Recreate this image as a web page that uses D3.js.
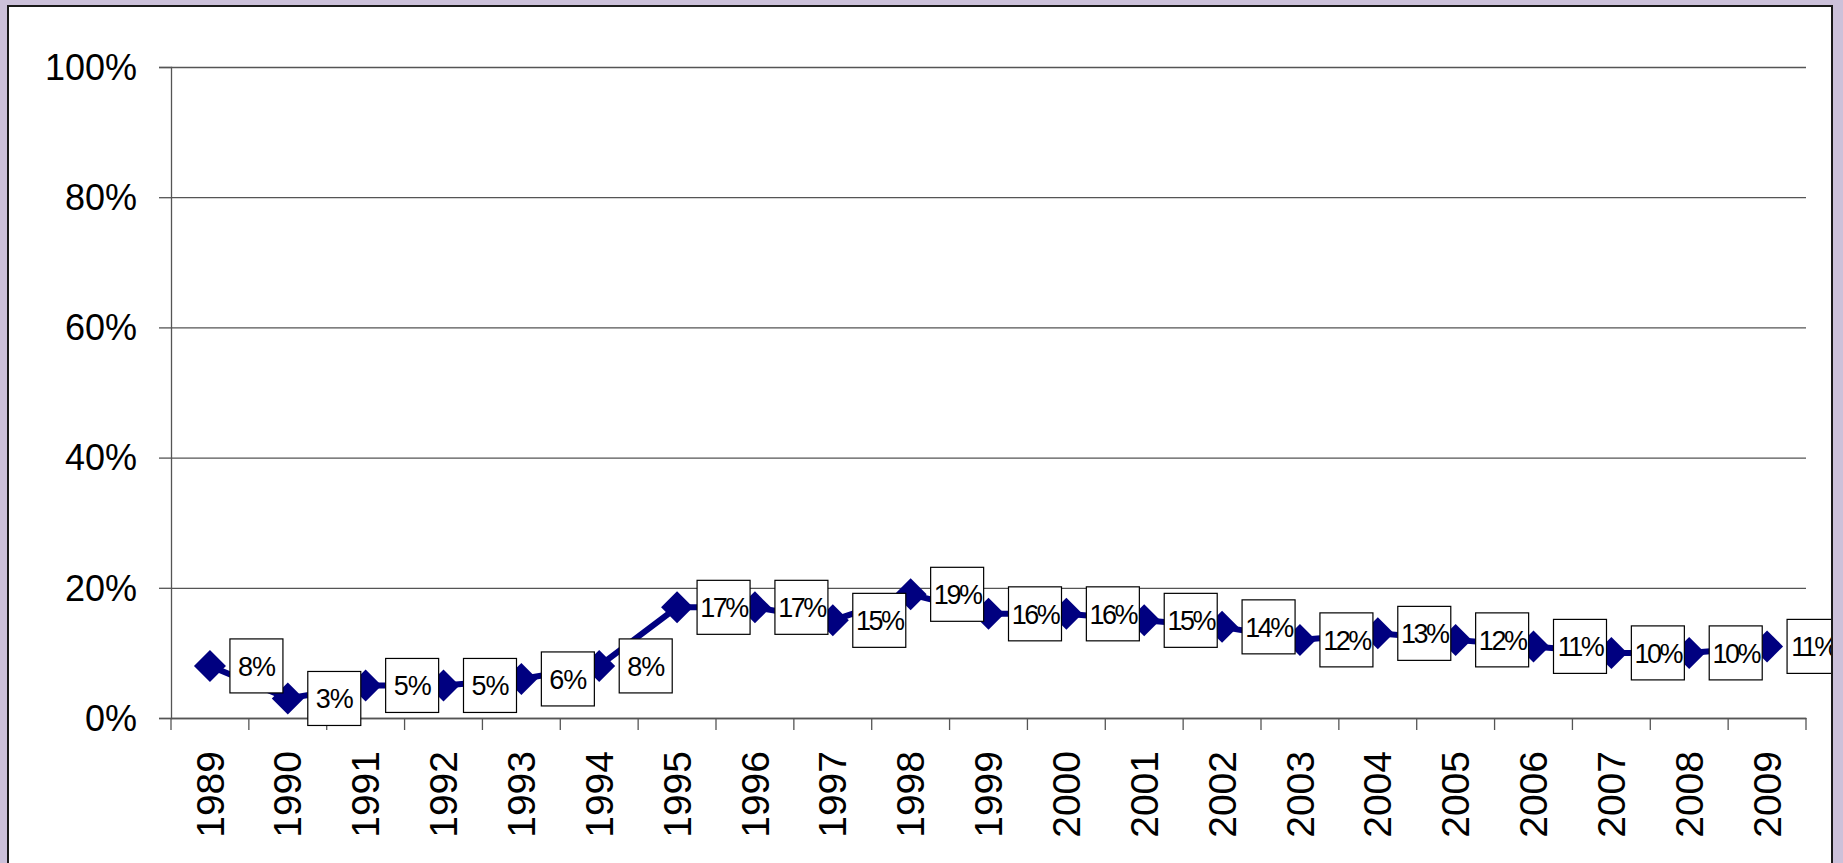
<!DOCTYPE html>
<html>
<head>
<meta charset="utf-8">
<script src="https://cdn.jsdelivr.net/npm/d3@7"></script>
<style>
  body { margin: 0; background: #ccc1da; overflow: hidden; }
  svg { display: block; }
  text { font-family: "Liberation Sans", Arial, sans-serif; fill: #000; }
</style>
</head>
<body>
<script>
// chart data
var years = ["1989", "1990", "1991", "1992", "1993", "1994", "1995", "1996", "1997", "1998", "1999",
             "2000", "2001", "2002", "2003", "2004", "2005", "2006", "2007", "2008", "2009"];
var shares = [0.08, 0.03, 0.05, 0.05, 0.06, 0.08, 0.17, 0.17, 0.15, 0.19, 0.16,
              0.16, 0.15, 0.14, 0.12, 0.13, 0.12, 0.11, 0.10, 0.10, 0.11];
var yTicks = [0, 0.2, 0.4, 0.6, 0.8, 1.0];

var width = 1843, height = 863;
var plot = {left: 171, right: 1806, top: 67, bottom: 718};

var svg = d3.select("body").append("svg")
    .attr("width", width)
    .attr("height", height);

// white chart panel
svg.append("rect")
    .attr("x", 8).attr("y", 6)
    .attr("width", 1824).attr("height", 880)
    .attr("fill", "#fff")
    .attr("stroke", "#1a1a1a")
    .attr("stroke-width", 2);

svg.append("clipPath").attr("id", "panel")
  .append("rect").attr("x", 9).attr("y", 7).attr("width", 1822).attr("height", 880);

var x = d3.scaleBand()
    .domain(years)
    .range([plot.left, plot.right])
    .padding(0);

var y = d3.scaleLinear()
    .domain([0, 1])
    .range([plot.bottom, plot.top]);

// gridlines
svg.append("g")
    .attr("transform", "translate(" + plot.left + ",0)")
    .call(d3.axisLeft(y).tickValues(yTicks).tickSize(-(plot.right - plot.left)).tickFormat(""))
    .call(function(g) { g.select(".domain").remove(); })
    .selectAll("line")
    .attr("stroke", "#555")
    .attr("stroke-width", 1.3);

// y axis
var yAxis = svg.append("g")
    .attr("transform", "translate(" + plot.left + ",0)")
    .call(d3.axisLeft(y).tickValues(yTicks).tickSize(12).tickPadding(22).tickFormat(d3.format(".0%")));
yAxis.select(".domain").attr("stroke", "#555").attr("stroke-width", 1.3);
yAxis.selectAll("line").attr("stroke", "#555").attr("stroke-width", 1.3);
yAxis.selectAll("text")
    .style("font-size", "36px")
    .attr("dy", "0.34em");

// x axis: labels at band centers, ticks at band boundaries
var xAxis = svg.append("g")
    .attr("transform", "translate(0," + plot.bottom + ")")
    .call(d3.axisBottom(x).tickSize(0).tickPadding(0));
xAxis.select(".domain").attr("stroke", "#555").attr("stroke-width", 1.3);
xAxis.selectAll("text")
    .style("font-size", "39px")
    .attr("text-anchor", "end")
    .attr("transform", "translate(0,33) rotate(-90)")
    .attr("x", 0).attr("y", 0)
    .attr("dy", "0.35em");

var bounds = years.map(function(d) { return x(d); }).concat([plot.right]);
xAxis.selectAll(".bound")
    .data(bounds)
    .enter()
    .append("line")
    .attr("class", "bound")
    .attr("x1", function(d) { return d; })
    .attr("x2", function(d) { return d; })
    .attr("y1", 0).attr("y2", 12)
    .attr("stroke", "#555")
    .attr("stroke-width", 1.3);

var data = years.map(function(d, i) { return {year: d, value: shares[i]}; });
var cx = function(d) { return x(d.year) + x.bandwidth() / 2; };

// line
var line = d3.line()
    .x(cx)
    .y(function(d) { return y(d.value); });

svg.append("path")
    .datum(data)
    .attr("d", line)
    .attr("fill", "none")
    .attr("stroke", "#000080")
    .attr("stroke-width", 6);

// diamond markers
var r = 16;
svg.selectAll(".marker")
    .data(data)
    .enter()
    .append("path")
    .attr("class", "marker")
    .attr("d", "M0," + (-r) + "L" + r + ",0L0," + r + "L" + (-r) + ",0Z")
    .attr("transform", function(d) { return "translate(" + cx(d) + "," + y(d.value) + ")"; })
    .attr("fill", "#000080");

// data labels in white boxes
var labels = svg.append("g")
    .attr("clip-path", "url(#panel)")
    .selectAll(".lbl")
    .data(data)
    .enter()
    .append("g")
    .attr("class", "lbl")
    .attr("transform", function(d) { return "translate(" + (cx(d) + 20) + "," + y(d.value) + ")"; });

labels.append("rect")
    .attr("x", 0).attr("y", -27)
    .attr("width", 53).attr("height", 54)
    .attr("fill", "#fff")
    .attr("stroke", "#000")
    .attr("stroke-width", 1.2);

labels.append("text")
    .attr("x", 26.5)
    .attr("dy", "0.36em")
    .attr("text-anchor", "middle")
    .style("font-size", "27px")
    .style("letter-spacing", function(d) { return d.value >= 0.1 ? "-2.5px" : "-1px"; })
    .text(function(d) { return d3.format(".0%")(d.value); });
</script>
</body>
</html>
